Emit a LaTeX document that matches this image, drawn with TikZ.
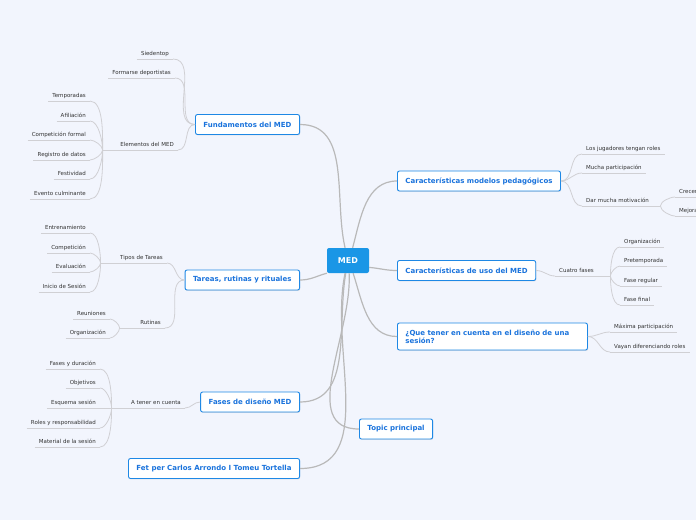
\documentclass[tikz,border=0pt]{standalone}
\usepackage{fontspec}
\setmainfont{DejaVu Sans}
\usetikzlibrary{shadows}
\definecolor{mapbg}{RGB}{242,245,253}
\definecolor{topicblue}{RGB}{30,136,229}
\definecolor{topictext}{RGB}{26,115,220}
\definecolor{centerblue}{RGB}{26,150,230}
\definecolor{linkgray}{RGB}{185,185,185}
\definecolor{subgray}{RGB}{208,208,212}
\definecolor{subtext}{RGB}{50,50,50}

\begin{document}
\begin{tikzpicture}[
	x=1pt, y=-1pt,
	central/.style={ rectangle, rounded corners=2pt, fill=centerblue, text=white, font=\fontsize{8}{9}\selectfont\bfseries, minimum width=42pt, minimum height=25pt, inner sep=0pt },
	topic/.style={ rectangle, rounded corners=2pt, draw=topicblue, line width=0.9pt, fill=white, text=topictext, font=\fontsize{7}{8}\selectfont\bfseries, minimum height=20pt, inner xsep=8pt, inner ysep=0pt, drop shadow={opacity=0.2, shadow xshift=0.6pt, shadow yshift=-0.9pt} },
	sub/.style={ text=subtext, font=\fontsize{5.5}{6.5}\selectfont, inner xsep=4pt, inner ysep=2.5pt, text height=4pt, text depth=1.2pt, append after command={ (\tikzlastnode.south west) edge[subline] (\tikzlastnode.south east) } },
	lsub/.style={ sub, anchor=south east },
	rsub/.style={ sub, anchor=south west },
	link/.style={ draw=linkgray, line width=1.2pt },
	subline/.style={ draw=subgray, line width=0.8pt }
]

\useasboundingbox (0,0) rectangle (696,520);
\fill[mapbg] (0,0) rectangle (696,520);

\node at (348,260.5) (med) [central] {MED};

\node at (300,124.5) (fund) [topic,anchor=east] {Fundamentos del MED};
\node at (300,280) (tareas) [topic,anchor=east] {Tareas, rutinas y rituales};
\node at (300,402) (fases) [topic,anchor=east] {Fases de diseño MED};
\node at (300,468.5) (fet) [topic,anchor=east] {Fet per Carlos Arrondo I Tomeu Tortella};
\node at (397,181) (modelos) [topic,anchor=west] {Características modelos pedagógicos};
\node at (397,270.5) (uso) [topic,anchor=west] {Características de uso del MED};
\node at (397,336.5) (sesion) [topic,anchor=west,text width=174pt,align=left,minimum height=27pt] {¿Que tener en cuenta en el diseño de una\\sesión?};
\node at (359,429) (principal) [topic,anchor=west] {Topic principal};

\draw[link] (fund.east) to [out=0,in=103] (med.103);
\draw[link] (med.70) to [out=75,in=180] (modelos.west);
\draw[link] (med.211) to [out=195,in=0] (tareas.east);
\draw[link] (med.-18) to [out=-5,in=180] (uso.west);
\draw[link] (med.-68) to [out=-72,in=180] (sesion.west);
\draw[link] (med.-85) to [out=-87,in=180] (principal.west);
\draw[link] (med.-100) to [out=-100,in=0] (fases.east);
\draw[link] (med.-103) to [out=-102,in=0] (fet.east);

\node at (173,59) (siedentop) [lsub] {Siedentop};
\node at (175,78) (formarse) [lsub] {Formarse deportistas};
\node at (178,150) (elementos) [lsub,text width=67pt,align=right] {Elementos del MED};
\draw[subline] (siedentop.south east) to [out=0,in=180] (fund.west);
\draw[subline] (formarse.south east) to [out=0,in=180] (fund.west);
\draw[subline] (elementos.south east) to [out=0,in=180] (fund.west);

\node at (90,101) (temporadas) [lsub] {Temporadas};
\node at (90,121) (afiliacion) [lsub] {Afiliación};
\node at (90,140) (formal) [lsub] {Competición formal};
\node at (90,160) (registro) [lsub] {Registro de datos};
\node at (90,179) (festividad) [lsub] {Festividad};
\node at (90,199) (culminante) [lsub] {Evento culminante};
\draw[subline] (temporadas.south east) to [out=0,in=90,looseness=0.7] (elementos.south west);
\draw[subline] (afiliacion.south east) to [out=0,in=90,looseness=0.7] (elementos.south west);
\draw[subline] (formal.south east) to [out=0,in=90,looseness=0.7] (elementos.south west);
\draw[subline] (registro.south east) to [out=0,in=-90,looseness=0.7] (elementos.south west);
\draw[subline] (festividad.south east) to [out=0,in=-90,looseness=0.7] (elementos.south west);
\draw[subline] (culminante.south east) to [out=0,in=-90,looseness=0.7] (elementos.south west);

\node at (167,263) (tipos) [lsub,text width=58pt,align=right] {Tipos de Tareas};
\node at (165,328) (rutinas) [lsub,text width=37pt,align=right] {Rutinas};
\draw[subline] (tipos.south east) to [out=0,in=180] (tareas.west);
\draw[subline] (rutinas.south east) to [out=0,in=180] (tareas.west);

\node at (90,233) (entrenamiento) [lsub] {Entrenamiento};
\node at (90,253) (competicion) [lsub] {Competición};
\node at (90,272) (evaluacion) [lsub] {Evaluación};
\node at (90,292) (inicio) [lsub] {Inicio de Sesión};
\draw[subline] (entrenamiento.south east) to [out=0,in=90,looseness=0.7] (tipos.south west);
\draw[subline] (competicion.south east) to [out=0,in=90,looseness=0.7] (tipos.south west);
\draw[subline] (evaluacion.south east) to [out=0,in=-90,looseness=0.7] (tipos.south west);
\draw[subline] (inicio.south east) to [out=0,in=-90,looseness=0.7] (tipos.south west);

\node at (110,319) (reuniones) [lsub] {Reuniones};
\node at (110,338) (organizacion) [lsub] {Organización};
\draw[subline] (reuniones.south east) to [out=0,in=90,looseness=0.7] (rutinas.south west);
\draw[subline] (organizacion.south east) to [out=0,in=-90,looseness=0.7] (rutinas.south west);

\node at (185,408) (cuenta) [lsub,text width=65pt,align=right] {A tener en cuenta};
\draw[subline] (cuenta.south east) to [out=0,in=180] (fases.west);

\node at (100,369) (duracion) [lsub] {Fases y duración};
\node at (100,388) (objetivos) [lsub] {Objetivos};
\node at (100,408) (esquema) [lsub] {Esquema sesión};
\node at (100,428) (roles) [lsub] {Roles y responsabilidad};
\node at (100,447) (material) [lsub] {Material de la sesión};
\draw[subline] (duracion.south east) to [out=0,in=90,looseness=0.7] (cuenta.south west);
\draw[subline] (objetivos.south east) to [out=0,in=90,looseness=0.7] (cuenta.south west);
\draw[subline] (esquema.south east) to (cuenta.south west);
\draw[subline] (roles.south east) to [out=0,in=-90,looseness=0.7] (cuenta.south west);
\draw[subline] (material.south east) to [out=0,in=-90,looseness=0.7] (cuenta.south west);

\node at (582,154) (jugadores) [rsub] {Los jugadores tengan roles};
\node at (582,173) (mucha) [rsub] {Mucha participación};
\node at (582,206) (motivacion) [rsub,text width=70pt,align=left] {Dar mucha motivación};
\draw[subline] (modelos.east) to [out=0,in=180] (jugadores.south west);
\draw[subline] (modelos.east) to [out=0,in=180] (mucha.south west);
\draw[subline] (modelos.east) to [out=0,in=180] (motivacion.south west);

\node at (675,197) (crecer) [rsub,text width=40pt,align=left] {Crecer};
\node at (675,216) (mejora) [rsub,text width=40pt,align=left] {Mejora};
\draw[subline] (crecer.south west) to [out=180,in=90,looseness=0.7] (motivacion.south east);
\draw[subline] (mejora.south west) to [out=180,in=-90,looseness=0.7] (motivacion.south east);

\node at (555,276) (fasescuatro) [rsub,text width=47pt,align=left] {Cuatro fases};
\draw[subline] (uso.east) to [out=0,in=180] (fasescuatro.south west);

\node at (620,247) (organiz) [rsub] {Organización};
\node at (620,266) (pretemporada) [rsub] {Pretemporada};
\node at (620,286) (regular) [rsub] {Fase regular};
\node at (620,305) (final) [rsub] {Fase final};
\draw[subline] (organiz.south west) to [out=180,in=90,looseness=0.7] (fasescuatro.south east);
\draw[subline] (pretemporada.south west) to [out=180,in=90,looseness=0.7] (fasescuatro.south east);
\draw[subline] (regular.south west) to [out=180,in=-90,looseness=0.7] (fasescuatro.south east);
\draw[subline] (final.south west) to [out=180,in=-90,looseness=0.7] (fasescuatro.south east);

\node at (610,332) (maxima) [rsub] {Máxima participación};
\node at (610,352) (vayan) [rsub] {Vayan diferenciando roles};
\draw[subline] (sesion.east) to [out=0,in=180] (maxima.south west);
\draw[subline] (sesion.east) to [out=0,in=180] (vayan.south west);

\end{tikzpicture}
\end{document}
